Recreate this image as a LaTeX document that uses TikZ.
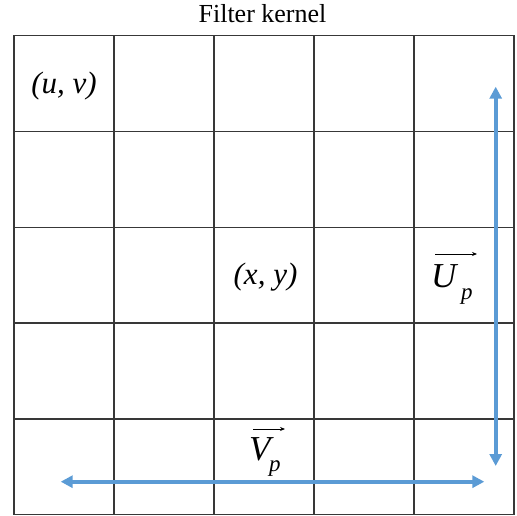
\documentclass[tikz,border=0pt]{standalone}
\usepackage{fontspec}
\setmainfont{Liberation Serif}
\usetikzlibrary{arrows.meta}
\definecolor{arrowblue}{RGB}{91,155,213}
\tikzset{
  cell/.style={draw=black!78, line width=1.2pt, minimum width=100pt, minimum height=95.9pt, inner sep=0pt},
  bluearrow/.style={draw=arrowblue, line width=4pt, {Triangle[length=12pt,width=12pt]}-{Triangle[length=12pt,width=12pt]}},
  vecarrow/.style={draw=black, line width=0.8pt, -{Stealth[length=5pt,width=4pt]}},
  bigit/.style={font=\itshape\fontsize{31}{31}\selectfont, inner sep=0pt, anchor=base},
  letter/.style={font=\itshape\fontsize{35}{35}\selectfont, inner sep=0pt, anchor=base west},
  subp/.style={font=\itshape\fontsize{23}{23}\selectfont, inner sep=0pt, anchor=base west},
}
\begin{document}
\begin{tikzpicture}[x=1pt,y=-1pt]
\useasboundingbox (0,0) rectangle (517,516);
\foreach \i in {0,...,4}{
  \foreach \j in {0,...,4}{
    \node[cell] (c\i\j) at (64+100*\i, 83.3+95.9*\j) {};
  }
}
\node[font=\fontsize{26}{26}\selectfont, inner sep=0pt, anchor=base] (title) at (262.5,23) {Filter kernel};
\node[bigit] (uv) at (64,94) {(u, v)};
\node[bigit] (xy) at (265.5,284) {(x, y)};
% U_p
\node[letter] (U) at (431,287) {U};
\node[subp] (Up) at (461,299) {p};
\coordinate (ua) at (435,254);
\coordinate (ub) at (477,254);
\draw[vecarrow] (ua) -- (ub);
% V_p
\node[letter] (V) at (249,460) {V};
\node[subp] (Vp) at (269,471) {p};
\coordinate (va) at (253,429);
\coordinate (vb) at (285,429);
\draw[vecarrow] (va) -- (vb);
% blue arrows
\coordinate (vt) at (495.7,86.7);
\coordinate (vbot) at (495.7,466);
\coordinate (hl) at (60.7,481.7);
\coordinate (hr) at (484.3,481.7);
\draw[bluearrow] (vt) -- (vbot);
\draw[bluearrow] (hl) -- (hr);
\end{tikzpicture}
\end{document}
